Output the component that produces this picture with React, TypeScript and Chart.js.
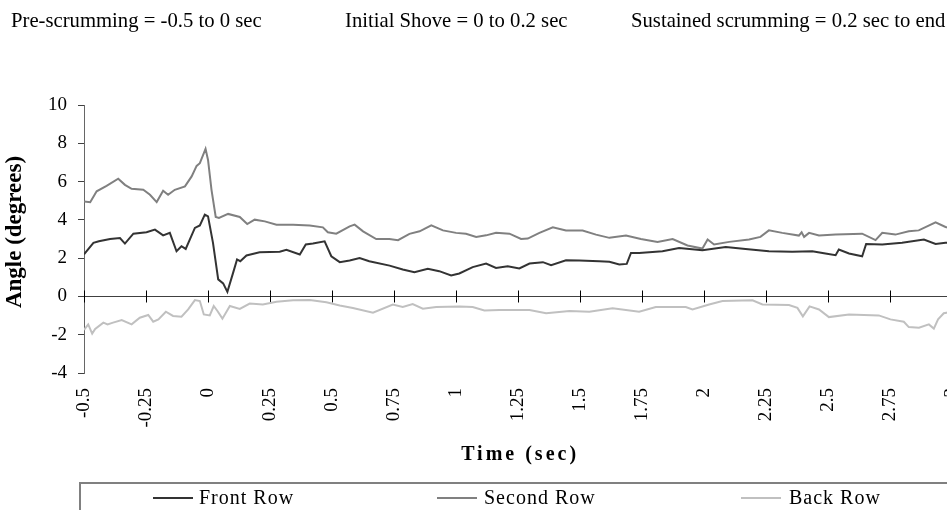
import React, { useEffect, useRef } from "react";
import { Chart, registerables } from "chart.js";

Chart.register(...registerables);

// ---- data ----
const frontTime = [-0.5, -0.462, -0.44, -0.395, -0.355, -0.335, -0.301, -0.248, -0.214, -0.181, -0.154, -0.127, -0.107, -0.09, -0.053, -0.033, -0.013, 0.0, 0.02, 0.041, 0.061, 0.078, 0.101, 0.117, 0.13, 0.155, 0.208, 0.289, 0.316, 0.37, 0.394, 0.423, 0.47, 0.497, 0.531, 0.571, 0.611, 0.65, 0.732, 0.785, 0.832, 0.886, 0.932, 0.98, 1.013, 1.067, 1.121, 1.161, 1.208, 1.255, 1.296, 1.35, 1.383, 1.443, 1.497, 1.577, 1.618, 1.658, 1.688, 1.705, 1.738, 1.832, 1.899, 1.993, 2.087, 2.167, 2.261, 2.355, 2.436, 2.489, 2.53, 2.543, 2.584, 2.637, 2.653, 2.718, 2.798, 2.886, 2.933, 2.973, 3.0];
const frontAngle = [2.2, 2.8, 2.88, 3.0, 3.05, 2.76, 3.28, 3.35, 3.49, 3.19, 3.32, 2.36, 2.62, 2.48, 3.58, 3.71, 4.27, 4.18, 2.8, 0.89, 0.68, 0.24, 1.23, 1.93, 1.84, 2.14, 2.31, 2.34, 2.44, 2.19, 2.71, 2.76, 2.88, 2.1, 1.79, 1.88, 2.01, 1.84, 1.61, 1.41, 1.27, 1.44, 1.32, 1.09, 1.2, 1.53, 1.72, 1.49, 1.58, 1.46, 1.72, 1.79, 1.63, 1.89, 1.88, 1.84, 1.81, 1.67, 1.7, 2.27, 2.27, 2.36, 2.53, 2.41, 2.58, 2.48, 2.36, 2.33, 2.36, 2.24, 2.15, 2.45, 2.24, 2.1, 2.74, 2.71, 2.8, 2.97, 2.74, 2.8, 2.8];

const secondTime = [-0.5, -0.475, -0.449, -0.409, -0.362, -0.335, -0.308, -0.261, -0.234, -0.207, -0.181, -0.161, -0.134, -0.093, -0.066, -0.046, -0.033, -0.01, 0.0, 0.014, 0.031, 0.044, 0.081, 0.128, 0.158, 0.188, 0.229, 0.276, 0.343, 0.41, 0.463, 0.483, 0.517, 0.571, 0.591, 0.625, 0.678, 0.731, 0.766, 0.812, 0.853, 0.9, 0.947, 1.0, 1.04, 1.081, 1.121, 1.161, 1.215, 1.262, 1.289, 1.336, 1.39, 1.443, 1.51, 1.564, 1.618, 1.685, 1.745, 1.812, 1.873, 1.933, 1.993, 2.014, 2.04, 2.101, 2.181, 2.227, 2.261, 2.315, 2.382, 2.393, 2.403, 2.423, 2.463, 2.53, 2.637, 2.691, 2.718, 2.771, 2.825, 2.865, 2.933, 2.973, 3.0];
const secondAngle = [4.96, 4.92, 5.49, 5.78, 6.15, 5.83, 5.62, 5.57, 5.31, 4.93, 5.52, 5.31, 5.57, 5.75, 6.27, 6.82, 6.96, 7.71, 7.13, 5.57, 4.15, 4.1, 4.31, 4.15, 3.78, 4.01, 3.92, 3.75, 3.75, 3.71, 3.61, 3.35, 3.28, 3.66, 3.75, 3.4, 3.0, 3.0, 2.94, 3.27, 3.4, 3.71, 3.45, 3.32, 3.27, 3.11, 3.19, 3.32, 3.28, 3.0, 3.02, 3.32, 3.61, 3.44, 3.44, 3.23, 3.06, 3.18, 3.0, 2.85, 3.0, 2.66, 2.5, 2.97, 2.71, 2.85, 2.97, 3.11, 3.45, 3.32, 3.18, 3.35, 3.11, 3.32, 3.18, 3.23, 3.28, 2.94, 3.32, 3.23, 3.4, 3.45, 3.87, 3.63, 3.55];

const backTime = [-0.5, -0.483, -0.467, -0.455, -0.422, -0.405, -0.383, -0.348, -0.308, -0.275, -0.241, -0.221, -0.2, -0.17, -0.141, -0.107, -0.08, -0.053, -0.033, -0.017, 0.007, 0.023, 0.038, 0.058, 0.088, 0.128, 0.168, 0.221, 0.276, 0.343, 0.41, 0.477, 0.531, 0.584, 0.665, 0.745, 0.785, 0.825, 0.866, 0.92, 1.014, 1.067, 1.114, 1.175, 1.296, 1.363, 1.457, 1.537, 1.631, 1.738, 1.805, 1.926, 1.953, 2.02, 2.074, 2.195, 2.235, 2.342, 2.376, 2.398, 2.425, 2.463, 2.503, 2.584, 2.704, 2.751, 2.805, 2.825, 2.866, 2.906, 2.926, 2.943, 2.966, 3.0];
const backAngle = [-1.75, -1.46, -1.94, -1.7, -1.37, -1.46, -1.37, -1.23, -1.46, -1.11, -0.97, -1.32, -1.2, -0.8, -1.02, -1.06, -0.68, -0.19, -0.24, -0.94, -0.99, -0.5, -0.76, -1.16, -0.5, -0.65, -0.37, -0.42, -0.28, -0.2, -0.19, -0.3, -0.47, -0.6, -0.85, -0.42, -0.55, -0.4, -0.64, -0.55, -0.52, -0.55, -0.73, -0.71, -0.71, -0.88, -0.76, -0.8, -0.62, -0.8, -0.55, -0.55, -0.68, -0.42, -0.24, -0.2, -0.42, -0.45, -0.6, -1.04, -0.52, -0.68, -1.08, -0.94, -0.99, -1.2, -1.32, -1.6, -1.63, -1.46, -1.68, -1.2, -0.88, -0.8];

const seriesNames = ["Front Row", "Second Row", "Back Row"];
const seriesColors = ["#333333", "#808080", "#c0c0c0"];
const phaseNotes = [
  "Pre-scrumming = -0.5 to 0 sec",
  "Initial Shove = 0 to 0.2 sec",
  "Sustained scrumming = 0.2 sec to end",
];
const xTitle = "Time (sec)";
const yTitle = "Angle (degrees)";

const SERIF = '"Liberation Serif", "Times New Roman", serif';

function toPoints(xs: number[], ys: number[]) {
  return xs.map((x, i) => ({ x, y: ys[i] }));
}

const decorPlugin = {
  id: "decor",
  beforeDatasetsDraw(chart: any) {
    const { ctx, chartArea, scales } = chart;
    const y0 = Math.round(scales.y.getPixelForValue(0)) + 0.5;
    ctx.save();
    ctx.strokeStyle = "#404040";
    ctx.lineWidth = 1;
    ctx.beginPath();
    ctx.moveTo(chartArea.left, y0);
    ctx.lineTo(chartArea.right, y0);
    ctx.stroke();
    ctx.strokeStyle = "#000000";
    ctx.beginPath();
    scales.x.ticks.forEach((t: any) => {
      const px = Math.round(scales.x.getPixelForValue(t.value)) + 0.5;
      ctx.moveTo(px, y0 - 6);
      ctx.lineTo(px, y0 + 6);
    });
    ctx.stroke();
    ctx.restore();
  },
  afterDraw(chart: any) {
    const { ctx, chartArea } = chart;
    ctx.save();
    // phase notes at top
    ctx.fillStyle = "#000";
    ctx.font = `20.7px ${SERIF}`;
    ctx.textBaseline = "alphabetic";
    ctx.textAlign = "left";
    const noteX = [11, 345, 631];
    phaseNotes.forEach((t, i) => ctx.fillText(t, noteX[i], 27));

    // x title
    ctx.font = `bold 20px ${SERIF}`;
    (ctx as any).letterSpacing = "3px";
    ctx.textAlign = "center";
    ctx.textBaseline = "middle";
    ctx.fillText(xTitle, (chartArea.left + chartArea.right) / 2 + 2, 455);

    // y title
    (ctx as any).letterSpacing = "0px";
    ctx.save();
    ctx.translate(15, 232);
    ctx.rotate(-Math.PI / 2);
    ctx.font = `bold 23px ${SERIF}`;
    ctx.fillText(yTitle, 0, 0);
    ctx.restore();

    // legend box
    ctx.strokeStyle = "#808080";
    ctx.lineWidth = 2;
    ctx.strokeRect(80, 483, 2000, 200);
    const lineX = [153, 437, 741];
    const textX = [199, 484, 789];
    ctx.font = `20px ${SERIF}`;
    (ctx as any).letterSpacing = "1px";
    ctx.textAlign = "left";
    ctx.textBaseline = "middle";
    seriesNames.forEach((name, i) => {
      ctx.strokeStyle = seriesColors[i];
      ctx.lineWidth = 2;
      ctx.beginPath();
      ctx.moveTo(lineX[i], 498);
      ctx.lineTo(lineX[i] + 40, 498);
      ctx.stroke();
      ctx.fillStyle = "#000";
      ctx.fillText(name, textX[i], 499);
    });
    ctx.restore();
  },
};

export default function App() {
  const ref = useRef<HTMLCanvasElement | null>(null);
  useEffect(() => {
    if (!ref.current) return;
    const datasets = [
      toPoints(frontTime, frontAngle),
      toPoints(secondTime, secondAngle),
      toPoints(backTime, backAngle),
    ].map((data, i) => ({
      label: seriesNames[i],
      data,
      borderColor: seriesColors[i],
      backgroundColor: seriesColors[i],
      borderWidth: 2,
      pointRadius: 0,
      tension: 0,
      fill: false,
    }));
    const chart = new Chart(ref.current, {
      type: "line",
      data: { datasets },
      plugins: [decorPlugin],
      options: {
        responsive: false,
        animation: false,
        events: [],
        layout: { padding: { left: 0, top: 105, right: 37, bottom: 0 } },
        plugins: {
          legend: { display: false },
          tooltip: { enabled: false },
          title: { display: false },
        },
        scales: {
          x: {
            type: "linear",
            min: -0.5,
            max: 3,
            position: "bottom",
            grid: { display: false, drawTicks: false },
            border: { display: false },
            ticks: {
              stepSize: 0.25,
              autoSkip: false,
              minRotation: 90,
              maxRotation: 90,
              padding: 15,
              color: "#000",
              font: { family: SERIF, size: 19 },
              callback: (v: any) => String(Math.round(Number(v) * 100) / 100),
            },
            afterFit: (s: any) => {
              s.height = 137;
            },
          },
          y: {
            min: -4,
            max: 10,
            grid: {
              drawOnChartArea: false,
              drawTicks: true,
              tickLength: 6,
              color: "#404040",
            },
            border: { color: "#666666", width: 1 },
            ticks: {
              stepSize: 2,
              padding: 11,
              color: "#000",
              font: { family: SERIF, size: 19 },
            },
            afterFit: (s: any) => {
              s.width = 84;
            },
          },
        },
      },
    });
    return () => chart.destroy();
  }, []);

  return (
    <div
      style={{
        position: "fixed",
        left: 0,
        top: 0,
        width: 947,
        height: 510,
        overflow: "hidden",
        background: "#fff",
      }}
    >
      <canvas ref={ref} width={990} height={510} style={{ width: 990, height: 510, display: "block" }} />
    </div>
  );
}
